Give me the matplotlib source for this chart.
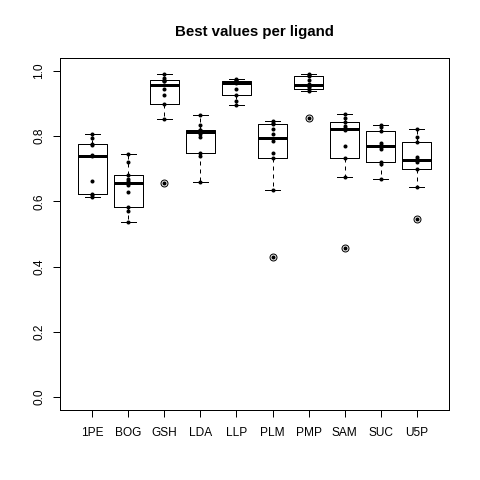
import numpy as np
import matplotlib
matplotlib.use("Agg")
import matplotlib.pyplot as plt

plt.rcParams['font.family'] = ['Liberation Sans', 'DejaVu Sans']

ligands = ["1PE", "BOG", "GSH", "LDA", "LLP", "PLM", "PMP", "SAM", "SUC", "U5P"]
v_1PE = [0.807, 0.796, 0.775, 0.772, 0.742, 0.738, 0.664, 0.622, 0.620, 0.613]
v_BOG = [0.746, 0.722, 0.680, 0.668, 0.662, 0.650, 0.629, 0.582, 0.570, 0.537]
v_GSH = [0.990, 0.978, 0.974, 0.970, 0.968, 0.944, 0.927, 0.899, 0.852, 0.657]
v_LDA = [0.866, 0.833, 0.820, 0.818, 0.816, 0.808, 0.797, 0.748, 0.740, 0.659]
v_LLP = [0.975, 0.972, 0.970, 0.968, 0.967, 0.962, 0.945, 0.928, 0.909, 0.896]
v_PLM = [0.847, 0.842, 0.837, 0.821, 0.807, 0.784, 0.750, 0.734, 0.635, 0.429]
v_PMP = [0.990, 0.987, 0.984, 0.972, 0.959, 0.953, 0.950, 0.944, 0.938, 0.857]
v_SAM = [0.869, 0.857, 0.843, 0.830, 0.826, 0.818, 0.771, 0.734, 0.674, 0.458]
v_SUC = [0.833, 0.828, 0.816, 0.778, 0.774, 0.766, 0.762, 0.721, 0.715, 0.669]
v_U5P = [0.823, 0.798, 0.781, 0.735, 0.730, 0.726, 0.722, 0.698, 0.644, 0.546]
values = [v_1PE, v_BOG, v_GSH, v_LDA, v_LLP, v_PLM, v_PMP, v_SAM, v_SUC, v_U5P]
yticks = [0.0, 0.2, 0.4, 0.6, 0.8, 1.0]


def tukey_stats(x, coef=1.5):
    x = np.sort(np.asarray(x, float))
    n = len(x)
    n4 = np.floor((n + 3) / 2) / 2
    d = np.array([1, n4, (n + 1) / 2, n + 1 - n4, n])
    fn = 0.5 * (x[np.floor(d - 1).astype(int)] + x[np.ceil(d - 1).astype(int)])
    iqr = fn[3] - fn[1]
    lo_f, hi_f = fn[1] - coef * iqr, fn[3] + coef * iqr
    inside = x[(x >= lo_f) & (x <= hi_f)]
    out = x[(x < lo_f) | (x > hi_f)]
    return dict(med=fn[2], q1=fn[1], q3=fn[3], whislo=inside.min(),
                whishi=inside.max(), fliers=out)


stats = [tukey_stats(v) for v in values]
pos = np.arange(1, len(ligands) + 1)

fig = plt.figure(figsize=(4.8, 4.8), dpi=100)
ax = fig.add_axes([60 / 480, 1 - 410 / 480, 389 / 480, 352 / 480])

px = 0.72
ax.bxp(stats, positions=pos, widths=0.8, showfliers=True,
       boxprops=dict(color='black', linewidth=px),
       medianprops=dict(color='black', linewidth=3 * px, solid_capstyle='butt'),
       whiskerprops=dict(color='black', linewidth=px, linestyle=(0, (4, 4))),
       capprops=dict(color='black', linewidth=px),
       capwidths=0.4,
       flierprops=dict(marker='o', markerfacecolor='none', markeredgecolor='black',
                       markersize=5.0, markeredgewidth=px, linestyle='none'))

for p, v in zip(pos, values):
    ax.plot(np.full(len(v), p), v, linestyle='none', marker='o', color='black',
            markersize=2.9, markeredgewidth=0)

ax.set_xlim(0.1, 10.9)
ax.set_ylim(-0.04, 1.04)
ax.set_xticks(pos)
ax.set_xticklabels(ligands)
ax.set_yticks(yticks)
ax.set_yticklabels([f"{t:.1f}" for t in yticks], rotation=90, va='center')
ax.tick_params(axis='both', direction='out', length=5.2, width=px, labelsize=8.6,
               colors='black')
ax.tick_params(axis='x', pad=7.0)
ax.tick_params(axis='y', pad=5.5)
for s in ax.spines.values():
    s.set_linewidth(px)
    s.set_color('black')

ax.set_title("Best values per ligand", fontsize=10.8, fontweight='bold', pad=16)

fig.savefig("out.png", dpi=100)
